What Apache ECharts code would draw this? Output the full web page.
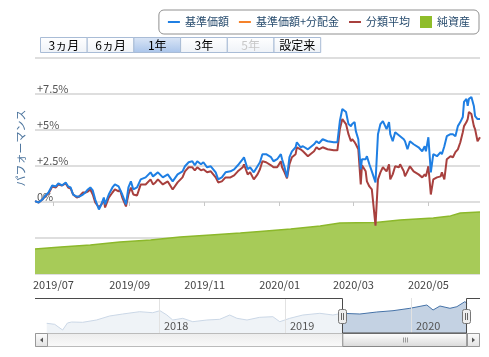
<!DOCTYPE html>
<html><head><meta charset="utf-8">
<script src="https://cdn.jsdelivr.net/npm/echarts@6/dist/echarts.min.js"></script>
<style>html,body{margin:0;padding:0;background:#fff}#c{width:489px;height:357px}</style>
</head><body><div id="c"></div>
<script>
const seriesNames = ['基準価額','基準価額+分配金','分類平均','純資産'];
const rangeButtons = ['3ヵ月','6ヵ月','1年','3年','5年','設定来'];
const xTickLabels = ['2019/07','2019/09','2019/11','2020/01','2020/03','2020/05'];
const yTickValues = [0, 2.5, 5, 7.5];
const navYearLabels = ['2018','2019','2020'];

const dates = ['2019-06-16','2019-06-19','2019-06-22','2019-06-24','2019-06-27','2019-06-30','2019-07-03','2019-07-05','2019-07-08','2019-07-11',
'2019-07-13','2019-07-15','2019-07-17','2019-07-20','2019-07-22','2019-07-25','2019-07-27','2019-07-29','2019-07-31','2019-08-02',
'2019-08-04','2019-08-07','2019-08-09','2019-08-11','2019-08-12','2019-08-15','2019-08-18','2019-08-20','2019-08-23','2019-08-24',
'2019-08-26','2019-08-29','2019-08-31','2019-09-02','2019-09-04','2019-09-07','2019-09-10','2019-09-14','2019-09-18','2019-09-20',
'2019-09-22','2019-09-24','2019-09-28','2019-10-02','2019-10-06','2019-10-10','2019-10-14','2019-10-16','2019-10-19','2019-10-22',
'2019-10-24','2019-10-26','2019-10-29','2019-10-31','2019-11-03','2019-11-06','2019-11-10','2019-11-12','2019-11-15','2019-11-18',
'2019-11-22','2019-11-25','2019-11-28','2019-12-02','2019-12-03','2019-12-06','2019-12-08','2019-12-11','2019-12-14','2019-12-16',
'2019-12-18','2019-12-21','2019-12-25','2019-12-27','2019-12-30','2020-01-02','2020-01-03','2020-01-05','2020-01-07','2020-01-09',
'2020-01-11','2020-01-14','2020-01-15','2020-01-18','2020-01-20','2020-01-24','2020-01-26','2020-01-29','2020-01-31','2020-02-02',
'2020-02-05','2020-02-09','2020-02-14','2020-02-17','2020-02-19','2020-02-21','2020-02-24','2020-02-26','2020-02-28','2020-02-29',
'2020-03-02','2020-03-03','2020-03-05','2020-03-07','2020-03-08','2020-03-11','2020-03-12','2020-03-14','2020-03-16','2020-03-19',
'2020-03-21','2020-03-23','2020-03-25','2020-03-28','2020-03-30','2020-03-31','2020-04-02','2020-04-04','2020-04-07','2020-04-08',
'2020-04-11','2020-04-12','2020-04-14','2020-04-16','2020-04-19','2020-04-20','2020-04-23','2020-04-26','2020-04-28','2020-04-29',
'2020-05-01','2020-05-03','2020-05-05','2020-05-08','2020-05-11','2020-05-12','2020-05-14','2020-05-16','2020-05-19','2020-05-21',
'2020-05-23','2020-05-25','2020-05-27','2020-05-29','2020-05-30','2020-06-01','2020-06-02','2020-06-03','2020-06-05','2020-06-07',
'2020-06-08','2020-06-10','2020-06-12'];

const basePrice = [0.06,-0.03,0.17,0.40,0.66,1.15,1.08,1.29,1.15,1.36,
1.08,1.01,0.52,0.38,0.38,0.52,0.66,0.87,1.01,0.80,
0.17,-0.52,-0.17,0.31,-0.17,0.52,1.01,1.22,1.08,1.15,
0.52,-0.17,1.01,1.43,0.87,1.01,1.57,1.71,2.06,1.78,
1.92,2.06,1.71,1.92,1.43,1.92,2.13,2.48,2.76,2.83,
2.55,2.83,2.62,2.76,2.41,2.48,2.06,1.57,1.71,2.06,
2.13,2.27,2.55,2.97,3.11,2.27,2.41,2.06,2.48,2.76,
3.32,3.32,3.11,2.83,2.97,3.32,2.97,2.41,1.71,3.11,
3.52,3.80,4.15,3.80,3.87,3.66,3.80,4.01,4.22,4.08,
4.36,4.22,4.15,4.15,5.62,6.46,6.25,5.41,5.27,5.41,
5.55,4.92,4.36,2.27,2.97,2.97,3.18,2.62,2.13,1.36,
4.71,5.41,5.62,5.06,5.55,4.71,4.22,4.85,4.64,4.71,
4.36,4.22,3.66,4.22,4.01,4.08,3.80,3.52,3.87,3.52,
4.50,2.06,3.32,3.18,3.46,3.32,3.87,4.57,4.71,4.71,
4.57,5.27,5.55,5.90,6.95,7.16,6.67,7.16,7.29,6.67,
5.97,5.76,5.76];

const categoryAvg = [0.06,-0.03,0.17,0.38,0.59,1.08,1.01,1.22,1.15,1.29,
1.01,0.94,0.52,0.31,0.38,0.66,0.66,0.73,0.87,0.52,
-0.03,-0.38,-0.17,0.17,-0.38,0.31,0.66,0.87,0.73,0.87,
0.31,-0.31,0.52,1.01,0.52,0.45,1.22,1.22,1.57,1.22,
1.36,1.57,1.22,1.43,0.87,1.36,1.71,2.13,2.41,2.41,
2.20,2.41,2.20,2.27,2.06,2.13,1.71,1.36,1.43,1.71,
1.71,1.85,2.13,2.41,2.62,1.92,2.06,1.57,1.92,2.27,
2.83,2.76,2.55,2.41,2.41,2.83,2.41,2.06,1.64,2.62,
3.11,3.32,3.80,3.66,3.52,3.18,3.32,3.52,3.80,3.66,
3.80,3.66,3.59,3.59,5.06,5.76,5.41,4.71,4.22,4.36,
4.15,4.01,3.66,1.22,2.55,2.13,1.43,1.08,0.87,-1.64,
1.57,2.06,2.41,2.13,2.62,1.57,1.92,2.48,2.41,2.62,
2.13,1.78,2.13,2.48,2.13,2.06,1.92,1.71,1.92,1.78,
2.48,0.52,1.57,1.71,1.78,2.06,1.57,2.97,3.18,3.11,
3.46,3.66,4.15,4.85,5.27,5.55,5.76,6.25,6.11,5.27,
5.06,4.22,4.50];

const assetDates = ['2019-06-16','2019-07-07','2019-07-31','2019-08-24','2019-09-18','2019-10-12','2019-11-06','2019-11-30','2019-12-16',
'2020-01-10','2020-02-03','2020-02-19','2020-03-19','2020-04-08','2020-05-05','2020-05-19','2020-05-27','2020-06-12'];
const netAssets = [11.6,12.5,13.4,14.8,15.7,17.1,18.1,19.0,19.7,20.8,22.2,23.6,23.8,25.0,25.9,26.9,28.2,28.7];

const navDates = ['2017-02-10','2017-03-05','2017-03-28','2017-04-11','2017-04-23','2017-05-25','2017-07-04','2017-08-11','2017-09-18','2017-11-06',
'2017-12-14','2018-01-04','2018-01-24','2018-02-10','2018-03-11','2018-04-09','2018-05-20','2018-06-26','2018-07-25','2018-08-15',
'2018-09-13','2018-10-20','2018-11-27','2018-12-17','2019-01-15','2019-02-22','2019-04-12','2019-05-20','2019-06-15','2019-08-06',
'2019-09-24','2019-11-10','2019-12-29','2020-02-16','2020-03-05','2020-03-25','2020-04-23','2020-05-13','2020-06-05','2020-06-12'];
const navValues = [9388,9348,9120,9400,9440,9428,9520,9680,9760,9852,
9812,9892,9720,9520,9588,9452,9520,9548,9720,9588,
9520,9628,9652,9452,9588,9720,9788,9720,9788,9760,
9840,9892,9988,10120,9920,10080,9988,10052,10252,10188];

const mainMin = '2019-06-16', mainMax = '2020-06-12';
const navMin = '2017-01-07', navMax = '2020-07-19';

const FONT = "'Noto Sans CJK JP', 'Noto Sans', sans-serif";
function ts(s){ const p = s.split(/[-\/]/).map(Number); return new Date(p[0], (p[1]||1)-1, p[2]||1).getTime(); }
function pad(n){ return (n<10?'0':'')+n; }
const xTickValues = xTickLabels.map(ts);
const navYearValues = navYearLabels.map(y => ts(y + '-01-01'));

const MAIN = {left:35, right:9, top:58, height:216};
const NAV = {left:35, right:9, top:298, height:35};

const chart = echarts.init(document.getElementById('c'));
const option = {
  animation: false,
  textStyle: {fontFamily: FONT},
  legend: {
    right: 10, top: 10, padding: [6, 9, 6, 9],
    borderColor: '#909090', borderWidth: 1, borderRadius: 5,
    itemWidth: 12, itemHeight: 12, itemGap: 10, selectedMode: false,
    textStyle: {fontSize: 11, color: '#274b6d', fontFamily: FONT},
    data: [
      {name: seriesNames[0], icon: 'path://M0,0H12V2H0Z'},
      {name: seriesNames[1], icon: 'path://M0,0H12V2H0Z'},
      {name: seriesNames[2], icon: 'path://M0,0H12V2H0Z'},
      {name: seriesNames[3], icon: 'rect'}
    ]
  },
  grid: [MAIN, NAV],
  xAxis: [
    {type: 'value', gridIndex: 0, min: ts(mainMin), max: ts(mainMax), scale: true,
     axisLine: {show: false},
     axisTick: {show: true, customValues: xTickValues, length: 4, lineStyle: {color: '#c8c8c8'}},
     axisLabel: {customValues: xTickValues, color: '#444', fontSize: 11, margin: 5,
       formatter: v => { const d = new Date(v); return d.getFullYear() + '/' + pad(d.getMonth()+1); }},
     splitLine: {show: false}},
    {type: 'value', gridIndex: 1, min: ts(navMin), max: ts(navMax), scale: true, z: 150,
     axisLine: {show: false},
     axisTick: {show: false, customValues: navYearValues},
     axisLabel: {customValues: navYearValues, inside: true, color: '#555', fontSize: 11, margin: 2,
       align: 'left', padding: [0, 0, 0, 5],
       formatter: v => String(new Date(v).getFullYear())},
     splitLine: {show: true, lineStyle: {color: '#e2e2e2', width: 1}}}
  ],
  yAxis: [
    {type: 'value', gridIndex: 0, min: -5, max: 10, interval: 2.5,
     axisLine: {show: false}, axisTick: {show: false},
     axisLabel: {inside: true, margin: 2, verticalAlign: 'bottom', color: '#555', fontSize: 11,
       formatter: v => yTickValues.includes(v) ? (v > 0 ? '+' + v + '%' : '0%') : ''},
     splitLine: {lineStyle: {color: '#dedede', width: 2}}},
    {type: 'value', gridIndex: 0, min: 0, max: 100, show: false, splitLine: {show: false}},
    {type: 'value', gridIndex: 1, min: 9000, max: 10400, show: false, splitLine: {show: false}}
  ],
  series: [
    {name: seriesNames[3], type: 'line', xAxisIndex: 0, yAxisIndex: 1, z: 1,
     data: assetDates.map((d, i) => [ts(d), netAssets[i]]), symbol: 'none',
     lineStyle: {color: '#8cb82b', width: 1.5}, itemStyle: {color: '#8fbd2a'},
     areaStyle: {color: '#a7cb58', opacity: 1}},
    {name: seriesNames[2], type: 'line', xAxisIndex: 0, yAxisIndex: 0, z: 3,
     data: dates.map((d, i) => [ts(d), categoryAvg[i]]), symbol: 'none',
     lineStyle: {color: '#a8403e', width: 2}, itemStyle: {color: '#a8403e'}},
    {name: seriesNames[1], type: 'line', xAxisIndex: 0, yAxisIndex: 0, z: 3,
     data: [], symbol: 'none',
     lineStyle: {color: '#f5822a', width: 2}, itemStyle: {color: '#f5822a'}},
    {name: seriesNames[0], type: 'line', xAxisIndex: 0, yAxisIndex: 0, z: 4,
     data: dates.map((d, i) => [ts(d), basePrice[i]]), symbol: 'none',
     lineStyle: {color: '#1f7fe3', width: 2}, itemStyle: {color: '#1f7fe3'}},
    {name: 'navigator', type: 'line', xAxisIndex: 1, yAxisIndex: 2, z: 2, silent: true,
     data: navDates.map((d, i) => [ts(d), navValues[i]]), symbol: 'none',
     lineStyle: {color: '#4572a7', width: 1}, itemStyle: {color: '#4572a7'},
     areaStyle: {color: 'rgba(69,114,167,0.45)'}}
  ]
};
chart.setOption(option);

// decorations: range buttons, axis title, navigator mask/handles and scrollbar
const xs = chart.convertToPixel({xAxisIndex: 1}, ts(mainMin));
const xe = chart.convertToPixel({xAxisIndex: 1}, ts(mainMax));
const L = NAV.left, R = 489 - NAV.right, T = NAV.top, B = NAV.top + NAV.height;
const grad = (a, b) => new echarts.graphic.LinearGradient(0, 0, 0, 1, [{offset: 0, color: a}, {offset: 1, color: b}]);
const g = [];
rangeButtons.forEach((t, i) => {
  const bw = 46.7, bx = 40 + i * bw;
  const sel = i === 2, dis = i === 4;
  g.push({type: 'rect', z: 100, shape: {x: bx + 0.5, y: 37.5, width: bw, height: 15},
    style: {fill: sel ? grad('#dbe6f6', '#a9c4ea') : grad('#ffffff', '#eef2f7'), stroke: '#a9bcd6', lineWidth: 1}});
  g.push({type: 'text', z: 101, x: bx + bw / 2 + 0.5, y: 45.5,
    style: {text: t, fill: dis ? '#c8c8c8' : '#000', font: '12px ' + FONT, align: 'center', verticalAlign: 'middle'}});
});
g.push({type: 'text', z: 100, x: 21, y: 148, rotation: Math.PI / 2,
  style: {text: 'パフォーマンス', fill: '#4d759e', font: '11px ' + FONT, align: 'center', verticalAlign: 'middle'}});
g.push({type: 'rect', z: 100, shape: {x: L, y: T, width: xs - L, height: B - T}, style: {fill: 'rgba(255,255,255,0.72)'}});
g.push({type: 'rect', z: 100, shape: {x: xe, y: T, width: R - xe, height: B - T}, style: {fill: 'rgba(255,255,255,0.72)'}});
const sT = 333.5, sH = 13;
g.push({type: 'rect', z: 301, shape: {x: L + 0.5, y: sT, width: R - L - 1, height: sH}, style: {fill: grad('#ececec', '#fafafa'), stroke: '#bbbbbb', lineWidth: 1}});
g.push({type: 'rect', z: 302, shape: {x: xs + 0.5, y: sT, width: xe - xs - 1, height: sH}, style: {fill: grad('#ffffff', '#d9d9d9'), stroke: '#888888', lineWidth: 1}});
const cx = Math.round((xs + xe) / 2) + 0.5;
[-2, 0, 2].forEach(o => g.push({type: 'line', z: 303, shape: {x1: cx + o, y1: sT + 4, x2: cx + o, y2: sT + 9}, style: {stroke: '#999', lineWidth: 1}}));
g.push({type: 'rect', z: 302, shape: {x: L + 0.5, y: sT, width: 12, height: sH}, style: {fill: grad('#fdfdfd', '#e2e2e2'), stroke: '#999', lineWidth: 1}});
g.push({type: 'polygon', z: 303, shape: {points: [[L + 8, sT + 4], [L + 8, sT + 9], [L + 5, sT + 6.5]]}, style: {fill: '#555'}});
g.push({type: 'rect', z: 302, shape: {x: R - 12.5, y: sT, width: 12, height: sH}, style: {fill: grad('#fdfdfd', '#e2e2e2'), stroke: '#999', lineWidth: 1}});
g.push({type: 'polygon', z: 303, shape: {points: [[R - 8, sT + 4], [R - 8, sT + 9], [R - 5, sT + 6.5]]}, style: {fill: '#555'}});
const xsl = Math.round(xs) + 0.5, xel = Math.round(xe) - 0.5;
g.push({type: 'polyline', z: 304, shape: {points: [[L, T + 0.5], [xsl, T + 0.5], [xsl, B], [xel, B], [xel, T + 0.5], [R, T + 0.5]]},
  style: {stroke: '#4a4a4a', lineWidth: 1, fill: null}});
[xsl, xel].forEach(hx => {
  g.push({type: 'rect', z: 305, shape: {x: hx - 4, y: 309.5, width: 8, height: 14, r: 2}, style: {fill: '#eeeeee', stroke: '#777', lineWidth: 1}});
  g.push({type: 'line', z: 306, shape: {x1: hx - 1, y1: 313, x2: hx - 1, y2: 320}, style: {stroke: '#666', lineWidth: 1}});
  g.push({type: 'line', z: 306, shape: {x1: hx + 1, y1: 313, x2: hx + 1, y2: 320}, style: {stroke: '#666', lineWidth: 1}});
});
chart.setOption({graphic: g});
</script>
</body></html>
